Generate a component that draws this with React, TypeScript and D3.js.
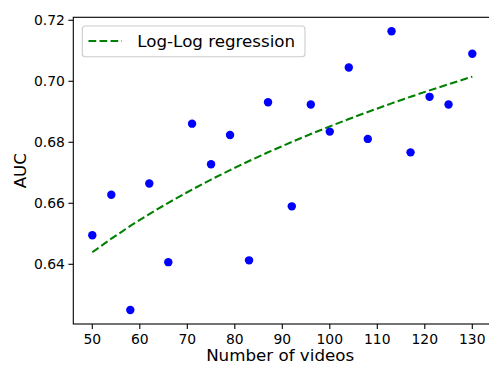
import React, { useEffect, useRef } from 'react';
import * as d3 from 'd3';

// number of videos and AUC for each run
const videos = [50, 54, 58, 62, 66, 71, 75, 79, 83, 87, 92, 96, 100, 104, 108, 113, 117, 121, 125, 130];
const auc = [
  0.6495, 0.6628, 0.625, 0.6665, 0.6407, 0.6861, 0.6728, 0.6824, 0.6413, 0.6931,
  0.659, 0.6924, 0.6835, 0.7045, 0.6811, 0.7164, 0.6767, 0.6949, 0.6924, 0.709,
];
const xTicks = [50, 60, 70, 80, 90, 100, 110, 120, 130];
const yTicks = [0.64, 0.66, 0.68, 0.7, 0.72];

const W = 489;
const H = 365;
const font = '"DejaVu Sans", sans-serif';

const App = () => {
  const ref = useRef<SVGSVGElement>(null);

  useEffect(() => {
    const svg = d3.select(ref.current);
    svg.selectAll('*').remove();

    const left = 73.3;
    const top = 17.3;
    const bottom = 324;
    const right = 491.3;

    // log-log least squares fit
    const lx = videos.map(v => Math.log(v));
    const ly = auc.map(v => Math.log(v));
    const mx = d3.mean(lx)!;
    const my = d3.mean(ly)!;
    const b = d3.sum(lx.map((v, i) => (v - mx) * (ly[i] - my))) / d3.sum(lx.map(v => (v - mx) ** 2));
    const a = my - b * mx;
    const fit = videos.map(v => Math.exp(a + b * Math.log(v)));

    // matplotlib style 5% margins
    const [x0, x1] = d3.extent(videos) as [number, number];
    const [y0, y1] = d3.extent(auc.concat(fit)) as [number, number];
    const xm = (x1 - x0) * 0.05;
    const ym = (y1 - y0) * 0.05;

    const x = d3.scaleLinear().domain([x0 - xm, x1 + xm]).range([left, right]);
    const y = d3.scaleLinear().domain([y0 - ym, y1 + ym]).range([bottom, top]);

    const g = svg.append('g');

    // fit line
    g.append('path')
      .datum(videos)
      .attr('d', d3.line<number>().x(d => x(d)).y((d, i) => y(fit[i])))
      .attr('fill', 'none')
      .attr('stroke', 'green')
      .attr('stroke-width', 2.08)
      .attr('stroke-dasharray', '7.7,3.33');

    // points
    g.selectAll('circle')
      .data(videos)
      .enter()
      .append('circle')
      .attr('cx', d => x(d))
      .attr('cy', (d, i) => y(auc[i]))
      .attr('r', 4.2)
      .attr('fill', 'blue');

    // spines
    const frame = svg.append('g').attr('stroke', 'black').attr('stroke-width', 1.1).attr('fill', 'none');
    frame.append('rect').attr('x', left).attr('y', top).attr('width', right - left).attr('height', bottom - top);

    // x axis
    const xa = svg.append('g');
    xTicks.forEach(t => {
      xa.append('line').attr('x1', x(t)).attr('x2', x(t)).attr('y1', bottom).attr('y2', bottom + 4.9)
        .attr('stroke', 'black').attr('stroke-width', 1.1);
      xa.append('text').attr('x', x(t)).attr('y', bottom + 19.5).attr('text-anchor', 'middle')
        .attr('font-family', font).attr('font-size', 13.9).text(t);
    });
    svg.append('text').attr('x', (left + 489) / 2 - 1).attr('y', 361).attr('text-anchor', 'middle')
      .attr('font-family', font).attr('font-size', 16.7).text('Number of videos');

    // y axis
    const ya = svg.append('g');
    yTicks.forEach(t => {
      ya.append('line').attr('x1', left - 4.9).attr('x2', left).attr('y1', y(t)).attr('y2', y(t))
        .attr('stroke', 'black').attr('stroke-width', 1.1);
      ya.append('text').attr('x', left - 8.4).attr('y', y(t) + 5).attr('text-anchor', 'end')
        .attr('font-family', font).attr('font-size', 13.9).text(d3.format('.2f')(t));
    });
    svg.append('text')
      .attr('transform', `translate(25.5,${(top + bottom) / 2}) rotate(-90)`)
      .attr('text-anchor', 'middle')
      .attr('font-family', font).attr('font-size', 16.7).text('AUC');

    // legend
    const lg = svg.append('g');
    lg.append('rect').attr('x', 82.3).attr('y', 26).attr('width', 222.7).attr('height', 30.7)
      .attr('rx', 3).attr('fill', 'white').attr('fill-opacity', 0.8)
      .attr('stroke', '#cccccc').attr('stroke-width', 1.1);
    lg.append('line').attr('x1', 88.5).attr('x2', 122).attr('y1', 41).attr('y2', 41)
      .attr('stroke', 'green').attr('stroke-width', 2.08).attr('stroke-dasharray', '7.7,3.33');
    lg.append('text').attr('x', 137.3).attr('y', 47).attr('font-family', font).attr('font-size', 16.7)
      .text('Log-Log regression');
  }, []);

  return (
    <svg ref={ref} width={W} height={H} style={{ position: 'absolute', left: 0, top: 0, background: 'white' }} />
  );
};

export default App;
